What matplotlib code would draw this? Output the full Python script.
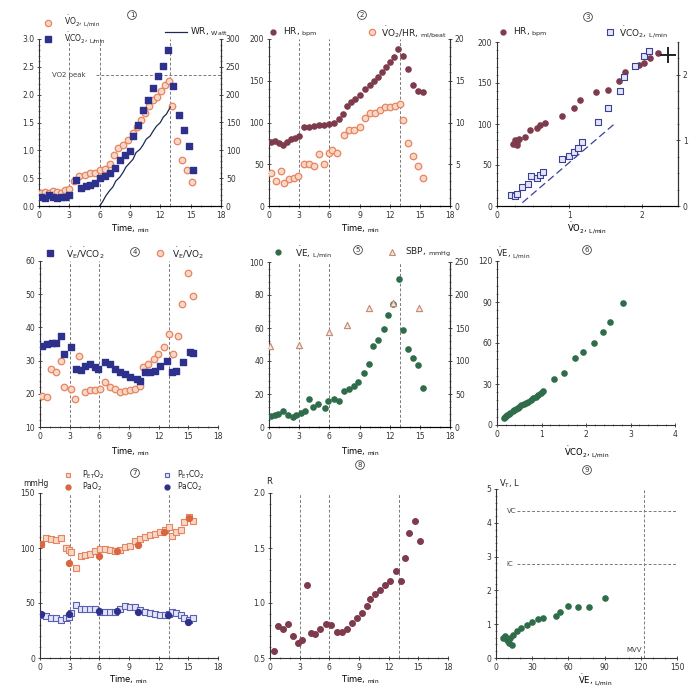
import matplotlib
matplotlib.use("Agg")
import matplotlib.pyplot as plt
from matplotlib.ticker import MultipleLocator, FormatStrFormatter
from matplotlib.lines import Line2D

plt.rcParams['font.family'] = ['DejaVu Sans']
plt.rcParams['mathtext.fontset'] = 'dejavusans'

# ---------------- DATA ----------------
phase_lines = [3, 6, 13]
time_ticks = [0, 3, 6, 9, 12, 15, 18]

# Panel 1
p1_vo2_t = [0.2,0.6,1.0,1.4,1.8,2.2,2.6,3.0,3.5,4.0,4.5,5.0,5.5,6.0,6.5,7.0,7.4,7.8,8.3,8.8,9.3,9.7,10.1,10.5,10.9,11.3,11.7,12.1,12.5,12.9,13.2,13.6,14.1,14.6,15.1]
p1_vo2 = [0.24,0.26,0.23,0.27,0.25,0.24,0.28,0.30,0.45,0.53,0.55,0.59,0.60,0.64,0.67,0.75,0.92,1.05,1.10,1.18,1.32,1.42,1.55,1.67,1.79,1.90,1.96,2.06,2.17,2.24,1.80,1.16,0.83,0.65,0.44]
p1_vco2_t = [0.2,0.6,1.0,1.4,1.8,2.2,2.6,3.0,3.7,4.2,4.6,5.0,5.5,6.0,6.5,7.0,7.5,8.0,8.5,9.0,9.3,9.8,10.3,10.8,11.3,11.8,12.3,12.8,13.3,13.8,14.3,14.8,15.2]
p1_vco2 = [0.17,0.15,0.19,0.16,0.14,0.17,0.16,0.20,0.47,0.33,0.36,0.38,0.42,0.50,0.53,0.59,0.68,0.83,0.92,0.98,1.25,1.46,1.73,1.91,2.12,2.33,2.51,2.81,2.16,1.64,1.37,1.07,0.65]
p1_wr_t = [6.0,6.3,6.6,7.0,7.3,7.6,8.0,8.3,8.6,9.0,9.3,9.6,10.0,10.3,10.6,11.0,11.3,11.6,12.0,12.3,12.6,13.0]
p1_wr = [0,8,18,28,34,45,52,60,70,78,84,96,102,110,120,126,135,143,150,160,165,178]
vo2_peak = 2.36

# Panel 2
p2_hr_t = [0.2,0.6,1.0,1.4,1.8,2.2,2.6,3.0,3.5,4.0,4.5,5.0,5.5,6.0,6.5,7.0,7.4,7.8,8.2,8.6,9.0,9.5,10.0,10.4,10.8,11.2,11.6,12.0,12.4,12.8,13.3,13.8,14.3,14.8,15.3]
p2_hr = [77,78,76,73,77,80,82,84,95,95,96,97,97,98,100,104,110,120,124,128,133,140,145,150,154,160,166,172,178,188,180,164,145,138,137]
p2_o2p_t = [0.2,0.7,1.2,1.5,2.0,2.5,2.9,3.5,4.0,4.5,5.0,5.5,6.0,6.3,6.8,7.5,8.0,8.5,9.0,9.5,10.0,10.5,11.0,11.5,12.0,12.5,13.0,13.3,13.8,14.3,14.8,15.3]
p2_o2p = [4.0,3.0,4.2,2.8,3.2,3.4,3.6,5.0,5.0,4.8,6.2,5.0,6.4,6.7,6.4,8.5,9.1,9.1,9.5,10.5,11.1,11.1,11.5,11.8,11.8,12.0,12.2,10.3,7.5,6.0,4.8,3.3]

# Panel 3
p3_hr_vo2 = [0.22,0.25,0.27,0.28,0.30,0.38,0.46,0.55,0.60,0.66,0.90,1.07,1.14,1.37,1.53,1.68,1.77,1.96,2.03,2.12,2.22]
p3_hr = [76,80,74,78,82,84,93,95,99,101,110,119,129,139,142,153,163,172,175,180,186]
p3_vco2_vo2 = [0.20,0.25,0.27,0.34,0.43,0.47,0.55,0.60,0.64,0.90,1.00,1.07,1.12,1.18,1.39,1.53,1.70,1.75,1.91,2.03,2.10]
p3_vco2 = [0.17,0.16,0.19,0.29,0.34,0.45,0.42,0.48,0.52,0.71,0.76,0.82,0.88,0.97,1.28,1.50,1.76,1.96,2.14,2.29,2.36]
p3_ref_x = [0.35, 1.62]
p3_ref_y = [0.05, 1.25]
p3_peak = (2.36, 184)

# Panel 4
p4_vco2eq_t = [0.2,0.7,1.2,1.6,2.1,2.4,3.1,3.6,4.1,4.6,5.1,5.6,5.9,6.6,7.1,7.6,8.1,8.6,9.1,9.8,10.1,10.6,11.1,11.6,12.1,12.8,13.3,13.8,14.5,15.2,15.5]
p4_vco2eq = [34.3,35,35.3,35.3,37.5,32,34,27.5,27.3,28.5,29,28,27.5,29.5,29,27.5,26.5,26,25,24.5,24,26.5,26.5,27,28.5,30,26.5,27,29.5,32.7,32.3]
p4_vo2eq_t = [0.2,0.7,1.1,1.6,2.1,2.4,3.1,3.5,3.9,4.6,5.1,5.6,6.1,6.6,7.1,7.6,8.1,8.6,9.1,9.6,10.1,10.4,10.9,11.5,11.9,12.5,13.0,13.5,14.0,14.4,15.0,15.5]
p4_vo2eq = [19.3,19,27.5,26.5,30,22,21.5,18.5,31.5,20.5,21,21,21.3,23.5,22,21.5,20.5,20.8,21.2,21.5,22.5,28,29,30.5,32,34,38,32,37.5,47,56.5,49.5]

# Panel 5
p5_ve_t = [0.2,0.6,0.9,1.4,1.9,2.4,2.7,3.2,3.6,4.0,4.4,4.9,5.6,5.9,6.5,7.0,7.5,8.0,8.5,8.9,9.4,9.9,10.3,10.8,11.4,11.8,12.3,12.9,13.3,13.8,14.3,14.8,15.3]
p5_ve = [6.7,7,8,9.5,7.5,6,7,8.7,9.5,16.8,12,14,11.5,16,17,16,22,23,25,27,33,38,49,52.5,59.5,68,74.7,90,59,47.5,42,37.5,23.6]
p5_sbp_t = [0.1,3.0,6.0,7.8,9.9,12.3,14.9]
p5_sbp = [123,125,144,155,181,188,181]

# Panel 6
p6_vco2 = [0.15,0.17,0.2,0.23,0.26,0.3,0.35,0.38,0.42,0.47,0.5,0.55,0.6,0.66,0.7,0.76,0.82,0.88,0.93,0.98,1.03,1.27,1.50,1.76,1.94,2.18,2.38,2.53,2.84]
p6_ve = [5,6,6.5,7.5,8,9,10,11,12,12.5,13.5,14.5,15.5,16,17,18,19.5,20.5,22,23.5,25,33.7,38.3,49,53.6,59.8,68,75.6,89.5]

# Panel 7
p7_pet_t = [0.1,0.6,1.1,1.6,2.1,2.6,2.9,3.1,3.6,4.1,4.6,5.1,5.6,6.1,6.6,7.1,7.6,8.1,8.6,9.1,9.6,10.1,10.6,11.1,11.6,12.1,12.6,13.0,13.3,13.8,14.3,14.6,15.1,15.5]
p7_peto2 = [104,109,108,107,109,100,98,96,81.5,93,94,95,97,99,99,98,97,98,100.6,102,106,108,110,112,113,115,116,119,111,115,116,124,128,125]
p7_petco2 = [39,38,36,36,35,36,37,41,48,45,44.4,44.4,44.4,42,42,42,42,45,47,46.5,46.5,44,42,41,40,39,39,40,42,41,39,36,35,36]
p7_pao2_t = [0.1,2.9,6.0,7.8,9.9,12.5,15.1]
p7_pao2 = [103.6,86,93,97,103,115,127]
p7_paco2_t = [0.1,2.9,6.0,7.8,9.9,12.9,15.0]
p7_paco2 = [40,40,43,43,42,39,33]

# Panel 8
p8_t = [0.4,0.8,1.3,1.8,2.3,2.8,3.2,3.7,4.1,4.6,5.1,5.7,6.2,6.8,7.3,7.8,8.3,8.8,9.3,9.8,10.1,10.6,11.1,11.6,12.1,12.7,13.2,13.7,14.1,14.7,15.2]
p8_r = [0.56,0.79,0.76,0.81,0.70,0.64,0.66,1.16,0.73,0.72,0.76,0.81,0.80,0.74,0.74,0.76,0.82,0.86,0.91,0.97,1.04,1.08,1.12,1.16,1.20,1.29,1.20,1.41,1.64,1.75,1.56]

# Panel 9
p9_ve = [6,7.5,8.9,10,11,11.6,13,14.4,17,21,25.5,29.6,35,39,50,53,60,68,77,90]
p9_vt = [0.59,0.64,0.54,0.5,0.45,0.59,0.37,0.69,0.79,0.89,0.99,1.06,1.16,1.19,1.24,1.36,1.53,1.51,1.51,1.78]
vc_level = 4.34
ic_level = 2.77
mvv_level = 123

# ---------------- STYLE ----------------
ORANGE = '#e8845f'
BLUE = '#2e318c'
MAROON = '#7d3b4c'
GREEN = '#2f6c49'
NAVY = '#1c2a55'
DASH = '#7a7a7a'
TICK = 5.5

W, H = 690, 687
fig = plt.figure(figsize=(W/100, H/100), dpi=100)


def fx(px):
    return px / W


def fy(py):
    return 1 - py / H


def make_ax(l, r, t, b):
    return fig.add_axes([fx(l), fy(b), (r - l) / W, (b - t) / H])


def style(ax, right=False):
    ax.spines['top'].set_visible(False)
    if not right:
        ax.spines['right'].set_visible(False)
    for s in ax.spines.values():
        s.set_linewidth(0.8)
        s.set_color('#333333')
    ax.tick_params(axis='both', which='major', labelsize=TICK, length=3,
                   width=0.6, direction='inout', colors='#333333', pad=2)
    ax.tick_params(axis='both', which='minor', length=2, width=0.5,
                   direction='inout', colors='#555555')
    ax.patch.set_alpha(0)


def twin_style(ax2):
    ax2.spines['top'].set_visible(False)
    ax2.spines['left'].set_visible(False)
    ax2.spines['right'].set_linewidth(0.8)
    ax2.spines['right'].set_color('#333333')
    ax2.tick_params(axis='y', which='major', labelsize=TICK, length=3,
                    width=0.6, direction='inout', colors='#333333', pad=2)
    ax2.tick_params(axis='y', which='minor', length=2, width=0.5,
                    direction='inout', colors='#555555')


def time_axis(ax):
    ax.set_xlim(0, 18)
    ax.set_xticks(time_ticks)
    ax.xaxis.set_minor_locator(MultipleLocator(1))
    for x in phase_lines:
        ax.axvline(x, color=DASH, lw=0.7, ls=(0, (3, 2)), zorder=0)


def circ(px, py, num):
    fig.text(fx(px), fy(py), num, fontsize=5, ha='center', va='center',
             color='#333333',
             bbox=dict(boxstyle='circle,pad=0.2', fc='white', ec='#444444', lw=0.6))


def leg_marker(px, py, **kw):
    fig.add_artist(Line2D([fx(px)], [fy(py)], transform=fig.transFigure, ls='none', **kw))


def leg_text(px, py, s, size=6.5, ha='left'):
    fig.text(fx(px), fy(py), s, fontsize=size, ha=ha, va='center', color='#222222')


TIME_LBL = r'Time, $_{\mathrm{min}}$'

# ---------------- PANEL 1 ----------------
ax1 = make_ax(39, 221, 39, 206)
style(ax1, right=True)
time_axis(ax1)
ax1.set_ylim(0, 3.0)
ax1.yaxis.set_major_locator(MultipleLocator(0.5))
ax1.yaxis.set_minor_locator(MultipleLocator(0.1))
ax1.yaxis.set_major_formatter(FormatStrFormatter('%.1f'))
ax1.hlines(vo2_peak, 5.6, 18, color=DASH, lw=0.7, ls=(0, (3, 2)))
ax1.text(1.3, vo2_peak, 'VO2 peak', fontsize=5, va='center', color='#444444')
ax1.scatter(p1_vo2_t, p1_vo2, s=22, facecolor='#f6d8c8', edgecolor=ORANGE, lw=0.9, zorder=3)
ax1.scatter(p1_vco2_t, p1_vco2, s=16, marker='s', color=BLUE, zorder=4)
ax1b = ax1.twinx()
twin_style(ax1b)
ax1b.set_ylim(0, 300)
ax1b.yaxis.set_major_locator(MultipleLocator(50))
ax1b.yaxis.set_minor_locator(MultipleLocator(10))
ax1b.plot(p1_wr_t, p1_wr, color=NAVY, lw=0.9)
fig.text(fx(130), fy(229), TIME_LBL, fontsize=6, ha='center', va='center')
circ(132, 15, '1')
leg_marker(48, 23, marker='o', ms=4.5, mfc='#f6d8c8', mec=ORANGE, mew=0.9)
leg_text(64, 21, r'$\dot{\mathrm{V}}\mathrm{O}_2$, $_{\mathrm{L/min}}$', size=5.5)
leg_marker(48, 39, marker='s', ms=4, color=BLUE)
leg_text(64, 38, r'$\dot{\mathrm{V}}\mathrm{CO}_2$, $_{\mathrm{L/min}}$', size=5.5)
fig.add_artist(Line2D([fx(165), fx(187)], [fy(32), fy(32)], transform=fig.transFigure, color=NAVY, lw=0.9))
leg_text(190, 32, r'WR, $_{\mathrm{Watt}}$')

# ---------------- PANEL 2 ----------------
ax2 = make_ax(269, 450, 39, 206)
style(ax2, right=True)
time_axis(ax2)
ax2.set_ylim(0, 200)
ax2.yaxis.set_major_locator(MultipleLocator(50))
ax2.yaxis.set_minor_locator(MultipleLocator(10))
ax2.scatter(p2_hr_t, p2_hr, s=14, color=MAROON, zorder=4)
ax2b = ax2.twinx()
twin_style(ax2b)
ax2b.set_ylim(0, 20)
ax2b.yaxis.set_major_locator(MultipleLocator(5))
ax2b.yaxis.set_minor_locator(MultipleLocator(1))
ax2b.scatter(p2_o2p_t, p2_o2p, s=22, facecolor='#f6d8c8', edgecolor=ORANGE, lw=0.9, zorder=3)
fig.text(fx(360), fy(229), TIME_LBL, fontsize=6, ha='center', va='center')
circ(362, 15, '2')
leg_marker(273, 32, marker='o', ms=3.5, color=MAROON)
leg_text(283, 32, r'HR, $_{\mathrm{bpm}}$')
leg_marker(372, 32, marker='o', ms=4.5, mfc='#f6d8c8', mec=ORANGE, mew=0.9)
leg_text(381, 32, r'$\dot{\mathrm{V}}\mathrm{O}_2$/HR, $_{\mathrm{ml/beat}}$')

# ---------------- PANEL 3 ----------------
ax3 = make_ax(497, 678, 42, 206)
style(ax3, right=True)
ax3.set_xlim(0, 2.5)
ax3.set_xticks([0, 1, 2])
ax3.xaxis.set_minor_locator(MultipleLocator(0.25))
ax3.set_ylim(0, 200)
ax3.yaxis.set_major_locator(MultipleLocator(50))
ax3.yaxis.set_minor_locator(MultipleLocator(10))
ax3.scatter(p3_hr_vo2, p3_hr, s=14, color=MAROON, zorder=4)
ax3.plot([p3_peak[0]], [p3_peak[1]], marker='+', ms=11, mew=1.4, color='#222222', zorder=5)
ax3b = ax3.twinx()
twin_style(ax3b)
ax3b.set_ylim(0, 2.5)
ax3b.yaxis.set_major_locator(MultipleLocator(1))
ax3b.yaxis.set_minor_locator(MultipleLocator(0.25))
ax3b.scatter(p3_vco2_vo2, p3_vco2, s=16, marker='s', facecolor='#e4e5f5', edgecolor='#3b3f9a', lw=0.8, zorder=3)
ax3b.plot(p3_ref_x, p3_ref_y, color='#3b3f9a', lw=0.9, ls=(0, (6, 3)))
fig.text(fx(587), fy(228), r'$\dot{\mathrm{V}}\mathrm{O}_2$, $_{\mathrm{L/min}}$', fontsize=6, ha='center', va='center')
circ(588, 17, '3')
leg_marker(503, 32, marker='o', ms=3.5, color=MAROON)
leg_text(513, 32, r'HR, $_{\mathrm{bpm}}$')
leg_marker(610, 32, marker='s', ms=4, mfc='#e4e5f5', mec='#3b3f9a', mew=0.8)
leg_text(619, 32, r'$\dot{\mathrm{V}}\mathrm{CO}_2$, $_{\mathrm{L/min}}$')

# ---------------- PANEL 4 ----------------
ax4 = make_ax(40, 218, 261, 427)
style(ax4)
time_axis(ax4)
ax4.set_ylim(10, 60)
ax4.yaxis.set_major_locator(MultipleLocator(10))
ax4.yaxis.set_minor_locator(MultipleLocator(2))
ax4.scatter(p4_vo2eq_t, p4_vo2eq, s=22, facecolor='#f6d8c8', edgecolor=ORANGE, lw=0.9, zorder=3)
ax4.scatter(p4_vco2eq_t, p4_vco2eq, s=16, marker='s', color=BLUE, zorder=4)
fig.text(fx(130), fy(452), TIME_LBL, fontsize=6, ha='center', va='center')
circ(135, 252, '4')
leg_marker(50, 253, marker='s', ms=4, color=BLUE)
leg_text(66, 253, r'$\dot{\mathrm{V}}_\mathrm{E}/\dot{\mathrm{V}}\mathrm{CO}_2$')
leg_marker(160, 253, marker='o', ms=4.5, mfc='#f6d8c8', mec=ORANGE, mew=0.9)
leg_text(172, 253, r'$\dot{\mathrm{V}}_\mathrm{E}/\dot{\mathrm{V}}\mathrm{O}_2$')

# ---------------- PANEL 5 ----------------
ax5 = make_ax(269, 450, 262, 427)
style(ax5, right=True)
time_axis(ax5)
ax5.set_ylim(0, 100)
ax5.yaxis.set_major_locator(MultipleLocator(20))
ax5.yaxis.set_minor_locator(MultipleLocator(4))
ax5.scatter(p5_ve_t, p5_ve, s=14, color=GREEN, zorder=4)
ax5b = ax5.twinx()
twin_style(ax5b)
ax5b.set_ylim(0, 250)
ax5b.yaxis.set_major_locator(MultipleLocator(50))
ax5b.yaxis.set_minor_locator(MultipleLocator(10))
ax5b.scatter(p5_sbp_t, p5_sbp, s=20, marker='^', facecolor='#f3e3da', edgecolor='#c48a74', lw=0.8, zorder=3)
fig.text(fx(360), fy(452), TIME_LBL, fontsize=6, ha='center', va='center')
circ(358, 250, '5')
leg_marker(278, 252, marker='o', ms=3.5, color=GREEN)
leg_text(295, 252, r'$\dot{\mathrm{V}}\mathrm{E}$, $_{\mathrm{L/min}}$')
leg_marker(392, 252, marker='^', ms=4.5, mfc='#f3e3da', mec='#c48a74', mew=0.8)
leg_text(405, 252, r'SBP, $_{\mathrm{mmHg}}$')

# ---------------- PANEL 6 ----------------
ax6 = make_ax(497, 675, 261, 425)
style(ax6)
ax6.set_xlim(0, 4)
ax6.set_xticks([0, 1, 2, 3, 4])
ax6.xaxis.set_minor_locator(MultipleLocator(0.2))
ax6.set_ylim(0, 120)
ax6.yaxis.set_major_locator(MultipleLocator(30))
ax6.yaxis.set_minor_locator(MultipleLocator(6))
ax6.scatter(p6_vco2, p6_ve, s=14, color=GREEN, zorder=4)
fig.text(fx(587), fy(452), r'$\dot{\mathrm{V}}\mathrm{CO}_2$, $_{\mathrm{L/min}}$', fontsize=6, ha='center', va='center')
circ(587, 250, '6')
leg_text(496, 253, r'$\dot{\mathrm{V}}\mathrm{E}$, $_{\mathrm{L/min}}$', size=6)

# ---------------- PANEL 7 ----------------
ax7 = make_ax(40, 218, 493, 658)
style(ax7)
time_axis(ax7)
ax7.set_ylim(0, 150)
ax7.yaxis.set_major_locator(MultipleLocator(50))
ax7.yaxis.set_minor_locator(MultipleLocator(10))
ax7.scatter(p7_pet_t, p7_peto2, s=16, marker='s', facecolor='#f6d8c8', edgecolor=ORANGE, lw=0.8, zorder=3)
ax7.scatter(p7_pao2_t, p7_pao2, s=18, color='#d9663f', zorder=4)
ax7.scatter(p7_pet_t, p7_petco2, s=16, marker='s', facecolor='#e4e5f5', edgecolor='#5a5fb5', lw=0.8, zorder=3)
ax7.scatter(p7_paco2_t, p7_paco2, s=18, color=BLUE, zorder=4)
fig.text(fx(128), fy(680), TIME_LBL, fontsize=6, ha='center', va='center')
circ(135, 473, '7')
leg_text(23, 484, 'mmHg', size=5.5)
leg_marker(68, 475, marker='s', ms=3.5, mfc='#f6d8c8', mec=ORANGE, mew=0.8)
leg_text(82, 475, r'P$_{\mathrm{ET}}$O$_2$', size=5.5)
leg_marker(68, 487, marker='o', ms=3.5, color='#d9663f')
leg_text(82, 487, r'PaO$_2$', size=5.5)
leg_marker(167, 475, marker='s', ms=3.5, mfc='#e4e5f5', mec='#5a5fb5', mew=0.8)
leg_text(177, 475, r'P$_{\mathrm{ET}}$CO$_2$', size=5.5)
leg_marker(167, 487, marker='o', ms=3.5, color=BLUE)
leg_text(177, 487, r'PaCO$_2$', size=5.5)

# ---------------- PANEL 8 ----------------
ax8 = make_ax(270, 448, 493, 658)
style(ax8)
time_axis(ax8)
ax8.set_ylim(0.5, 2.0)
ax8.yaxis.set_major_locator(MultipleLocator(0.5))
ax8.yaxis.set_minor_locator(MultipleLocator(0.1))
ax8.yaxis.set_major_formatter(FormatStrFormatter('%.1f'))
ax8.scatter(p8_t, p8_r, s=16, color=MAROON, zorder=4)
fig.text(fx(360), fy(680), TIME_LBL, fontsize=6, ha='center', va='center')
circ(360, 465, '8')
leg_text(266, 482, 'R', size=6)

# ---------------- PANEL 9 ----------------
ax9 = make_ax(496, 677, 489, 658)
style(ax9)
ax9.set_xlim(0, 150)
ax9.xaxis.set_major_locator(MultipleLocator(30))
ax9.xaxis.set_minor_locator(MultipleLocator(10))
ax9.set_ylim(0, 5)
ax9.yaxis.set_major_locator(MultipleLocator(1))
ax9.yaxis.set_minor_locator(MultipleLocator(0.2))
ax9.hlines([vc_level, ic_level], 17, 150, color=DASH, lw=0.7, ls=(0, (3, 2)))
ax9.text(9, vc_level, 'VC', fontsize=5, va='center', ha='left', color='#444444')
ax9.text(9, ic_level, 'IC', fontsize=5, va='center', ha='left', color='#444444')
ax9.axvline(mvv_level, color=DASH, lw=0.7, ls=(0, (3, 2)))
ax9.text(mvv_level - 2, 0.25, 'MVV', fontsize=5, ha='right', va='center', color='#444444')
ax9.scatter(p9_ve, p9_vt, s=14, color=GREEN, zorder=4)
fig.text(fx(595), fy(680), r'$\dot{\mathrm{V}}\mathrm{E}$, $_{\mathrm{L/min}}$', fontsize=6, ha='center', va='center')
circ(587, 470, '9')
leg_text(499, 484, r'V$_\mathrm{T}$, L', size=6)

fig.savefig('out.png', dpi=100)
